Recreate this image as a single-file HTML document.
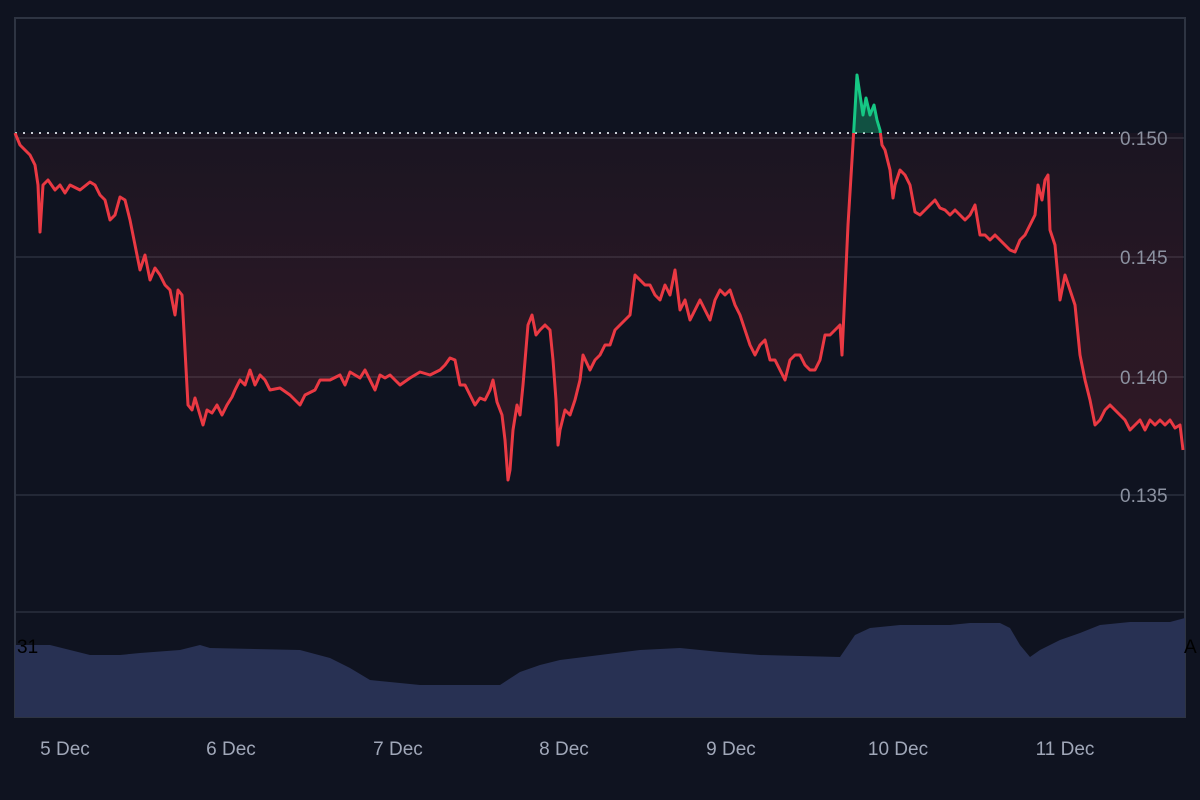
<!DOCTYPE html>
<html><head><meta charset="utf-8"><style>
html,body{margin:0;padding:0;background:#0f1320;}
svg{display:block;font-family:"Liberation Sans",sans-serif;}
</style></head><body>
<svg width="1200" height="800" viewBox="0 0 1200 800">
<defs>
<linearGradient id="rg" gradientUnits="userSpaceOnUse" x1="0" y1="133" x2="0" y2="480"><stop offset="0" stop-color="#ea3943" stop-opacity="0.05"/><stop offset="0.6" stop-color="#ea3943" stop-opacity="0.13"/><stop offset="1" stop-color="#ea3943" stop-opacity="0.15"/></linearGradient>
<clipPath id="below"><rect x="0" y="133" width="1200" height="500"/></clipPath>
<clipPath id="above"><rect x="0" y="0" width="1200" height="133"/></clipPath>
</defs>
<rect width="1200" height="800" fill="#0f1320"/>
<g stroke="#2a303d" stroke-width="1.5">
<line x1="15" y1="257" x2="1185" y2="257"/>
<line x1="15" y1="377" x2="1185" y2="377"/>
<line x1="15" y1="495" x2="1185" y2="495"/>
<line x1="15" y1="138" x2="1185" y2="138"/>
<line x1="15" y1="612" x2="1185" y2="612"/>
</g>
<rect x="15" y="18" width="1170" height="699" fill="none" stroke="#2e3442" stroke-width="2"/>
<polygon fill="#283153" points="15,717 15,645 40,645 50,645 70,650 90,655 120,655 140,653 180,650 200,645 210,648 300,650 330,658 350,668 370,680 400,683 420,685 500,685 520,672 540,665 560,660 600,655 640,650 680,648 720,652 760,655 800,656 840,657 855,635 870,628 900,625 950,625 970,623 1000,623 1010,628 1020,645 1030,657 1040,650 1060,640 1080,633 1100,625 1130,622 1170,622 1185,618 1185,717"/>
<text x="17" y="653" font-size="19" fill="#000">31</text>
<text x="1184" y="653" font-size="19" fill="#000">A</text>
<polygon id="area" fill="url(#rg)" clip-path="url(#below)" points=""/>
<line x1="15" y1="133" x2="1120" y2="133" stroke="#c8ccd4" stroke-width="2" stroke-dasharray="2,6"/>
<g font-size="19" fill="#8b91a0">
<text x="1120" y="145">0.150</text>
<text x="1120" y="264">0.145</text>
<text x="1120" y="384">0.140</text>
<text x="1120" y="502">0.135</text>
</g>
<g font-size="19" fill="#a0a7b8" text-anchor="middle">
<text x="65" y="755">5 Dec</text><text x="231" y="755">6 Dec</text><text x="398" y="755">7 Dec</text><text x="564" y="755">8 Dec</text><text x="731" y="755">9 Dec</text><text x="898" y="755">10 Dec</text><text x="1065" y="755">11 Dec</text>
</g>
<g id="lines"></g>
<script>
var p="15,133 20,145 25,150 30,155 35,165 38,185 40,232 43,185 48,180 55,190 60,185 65,193 70,185 80,190 90,182 95,185 100,195 105,200 110,220 115,215 120,197 125,200 130,220 135,245 140,270 145,255 150,280 155,268 160,275 165,285 170,290 175,315 178,290 182,295 185,350 188,405 192,410 195,398 200,415 203,425 207,410 212,413 217,405 222,415 227,405 232,397 235,390 240,380 245,385 250,370 255,385 260,375 265,380 270,390 280,388 290,395 300,405 305,395 315,390 320,380 330,380 340,375 345,385 350,372 360,378 365,370 370,380 375,390 380,375 385,378 390,375 395,380 400,385 410,378 420,372 430,375 440,370 445,365 450,358 455,360 460,385 465,385 470,395 475,405 480,398 485,400 490,390 493,380 497,402 502,415 505,440 508,480 510,470 513,430 517,405 520,415 523,385 528,325 532,315 536,335 540,330 545,325 550,330 553,360 556,400 558,445 560,430 565,410 570,415 575,400 580,380 583,355 590,370 595,360 600,355 605,345 610,345 615,330 620,325 625,320 630,315 635,275 640,280 645,285 650,285 655,295 660,300 665,285 670,295 675,270 680,310 685,300 690,320 695,310 700,300 705,310 710,320 715,300 720,290 725,295 730,290 735,305 740,315 745,330 750,345 755,355 760,345 765,340 770,360 775,360 780,370 785,380 790,360 795,355 800,355 805,365 810,370 815,370 820,360 825,335 830,335 835,330 840,325 842,355 845,290 848,225 852,160 855,110 857,75 860,95 863,115 866,98 870,115 874,105 877,120 880,130 882,145 885,150 890,170 893,198 895,185 900,170 905,175 910,185 915,212 920,215 925,210 930,205 935,200 940,208 945,210 950,215 955,210 960,215 965,220 970,215 975,205 980,235 985,235 990,240 995,235 1000,240 1005,245 1010,250 1015,252 1020,240 1025,235 1030,225 1035,215 1038,185 1042,200 1045,180 1048,175 1050,230 1055,245 1060,300 1065,275 1070,290 1075,305 1080,355 1085,380 1090,400 1095,425 1100,420 1105,410 1110,405 1115,410 1120,415 1125,420 1130,430 1135,425 1140,420 1145,430 1150,420 1155,425 1160,420 1165,425 1170,420 1175,428 1180,425 1183,450";
document.getElementById('area').setAttribute('points','15,133 '+p+' 1183,133');
var NS="http://www.w3.org/2000/svg",g=document.getElementById('lines');
function mk(tag,a){var e=document.createElementNS(NS,tag);for(var k in a)e.setAttribute(k,a[k]);g.appendChild(e);}
mk('polygon',{points:'852,133 '+p.split(' ').filter(function(s){var x=+s.split(',')[0];return x>=852&&x<=882}).join(' ')+' 882,133',fill:'#16c784','fill-opacity':'0.35','clip-path':'url(#above)'});
mk('polyline',{points:p,fill:'none',stroke:'#ea3943','stroke-width':'3','stroke-linejoin':'round','clip-path':'url(#below)'});
mk('polyline',{points:p,fill:'none',stroke:'#16c784','stroke-width':'3','stroke-linejoin':'round','clip-path':'url(#above)'});
</script>
</svg>
</body></html>
